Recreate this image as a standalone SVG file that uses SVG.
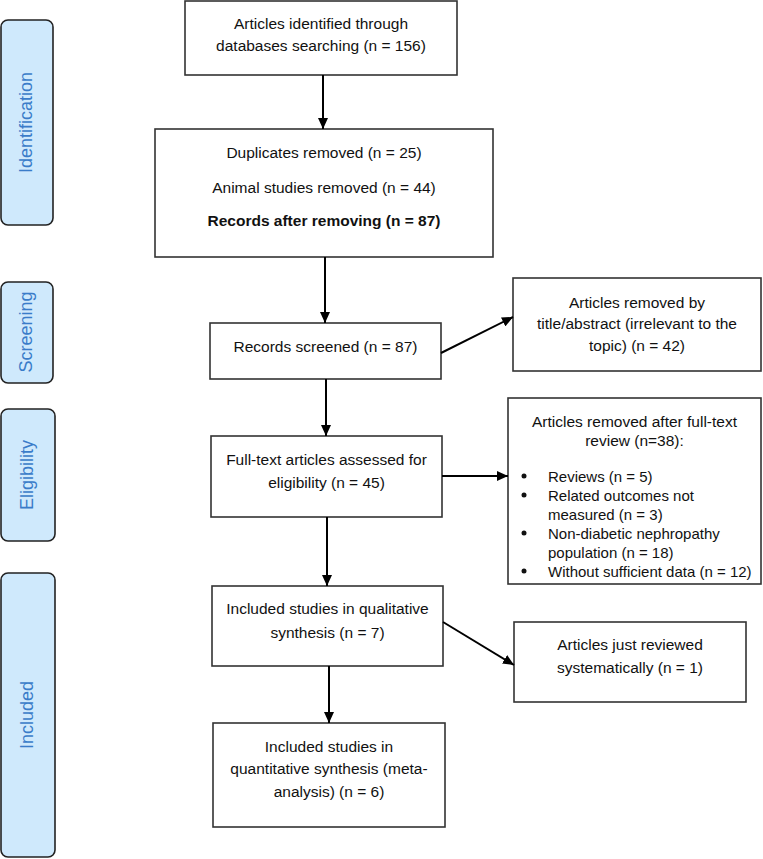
<svg xmlns="http://www.w3.org/2000/svg" width="763" height="859" viewBox="0 0 763 859">
<style>
.box{fill:#fff;stroke:#333;stroke-width:1.6}
.side{fill:#cfe9fc;stroke:#222;stroke-width:1.6}
.t{font-family:"Liberation Sans",Arial,sans-serif;font-size:15.5px;fill:#111;text-anchor:middle;dominant-baseline:central}
.tl{font-family:"Liberation Sans",Arial,sans-serif;font-size:15px;fill:#111;dominant-baseline:central}
.b{font-weight:bold}
.s{font-family:"Liberation Sans",Arial,sans-serif;font-size:18px;fill:#3a7cc9;text-anchor:middle;dominant-baseline:central}
.c{stroke:#000;stroke-width:2;fill:none}
</style>
<defs>
<marker id="ah" markerUnits="userSpaceOnUse" markerWidth="12" markerHeight="10" refX="11" refY="5" orient="auto">
<path d="M0,0 L11,5 L0,10 z" fill="#000"/>
</marker>
</defs>
<g id="side-identification"><rect class="side" x="1" y="20" width="52" height="205" rx="7"/><text class="s" transform="translate(26,122.5) rotate(-90)">Identification</text></g>
<g id="side-screening"><rect class="side" x="1" y="282" width="52" height="101" rx="7"/><text class="s" transform="translate(26,332) rotate(-90)">Screening</text></g>
<g id="side-eligibility"><rect class="side" x="1" y="409" width="54" height="132" rx="7"/><text class="s" transform="translate(27,475) rotate(-90)">Eligibility</text></g>
<g id="side-included"><rect class="side" x="1" y="573" width="54" height="284" rx="7"/><text class="s" transform="translate(27,715) rotate(-90)">Included</text></g>

<g id="n1"><rect class="box" x="185" y="1" width="272" height="74"/><text class="t" x="321" y="23">Articles identified through</text><text class="t" x="321" y="45">databases searching (n = 156)</text></g>
<g id="n2"><rect class="box" x="155" y="129" width="338" height="128"/><text class="t" x="324" y="152">Duplicates removed (n = 25)</text><text class="t" x="324" y="187">Animal studies removed (n = 44)</text><text class="t b" x="324" y="220">Records after removing (n = 87)</text></g>
<g id="n3"><rect class="box" x="210" y="323" width="231" height="56"/><text class="t" x="325.5" y="346">Records screened (n = 87)</text></g>
<g id="n4"><rect class="box" x="513" y="278" width="248" height="93"/><text class="t" x="637" y="302">Articles removed by</text><text class="t" x="637" y="323">title/abstract (irrelevant to the</text><text class="t" x="637" y="345">topic) (n = 42)</text></g>
<g id="n5"><rect class="box" x="508" y="398" width="253" height="186"/><text class="t" x="634.5" y="421">Articles removed after full-text</text><text class="t" x="634.5" y="440">review (n=38):</text>
<circle cx="524" cy="476" r="2.5" fill="#111"/><text class="tl" x="548" y="476">Reviews (n = 5)</text>
<circle cx="524" cy="495" r="2.5" fill="#111"/><text class="tl" x="548" y="495">Related outcomes not</text><text class="tl" x="548" y="514">measured (n = 3)</text>
<circle cx="524" cy="533" r="2.5" fill="#111"/><text class="tl" x="548" y="533">Non-diabetic nephropathy</text><text class="tl" x="548" y="552">population (n = 18)</text>
<circle cx="524" cy="571" r="2.5" fill="#111"/><text class="tl" x="548" y="571">Without sufficient data (n = 12)</text></g>
<g id="n6"><rect class="box" x="211" y="436" width="231" height="81"/><text class="t" x="326.5" y="459">Full-text articles assessed for</text><text class="t" x="326.5" y="482">eligibility (n = 45)</text></g>
<g id="n7"><rect class="box" x="212" y="586" width="231" height="80"/><text class="t" x="327.5" y="608">Included studies in qualitative</text><text class="t" x="327.5" y="632">synthesis (n = 7)</text></g>
<g id="n8"><rect class="box" x="514" y="622" width="232" height="80"/><text class="t" x="630" y="644">Articles just reviewed</text><text class="t" x="630" y="667">systematically (n = 1)</text></g>
<g id="n9"><rect class="box" x="213" y="723" width="232" height="104"/><text class="t" x="329" y="746">Included studies in</text><text class="t" x="329" y="768">quantitative synthesis (meta-</text><text class="t" x="329" y="791">analysis) (n = 6)</text></g>

<g id="connectors">
<line class="c" x1="323" y1="75" x2="323" y2="129" marker-end="url(#ah)"/>
<line class="c" x1="325" y1="257" x2="325" y2="323" marker-end="url(#ah)"/>
<line class="c" x1="441" y1="353" x2="513" y2="317" marker-end="url(#ah)"/>
<line class="c" x1="326" y1="379" x2="326" y2="436" marker-end="url(#ah)"/>
<line class="c" x1="442" y1="476" x2="508" y2="476" marker-end="url(#ah)"/>
<line class="c" x1="327" y1="517" x2="327" y2="586" marker-end="url(#ah)"/>
<line class="c" x1="443" y1="622" x2="514" y2="665" marker-end="url(#ah)"/>
<line class="c" x1="329" y1="666" x2="329" y2="723" marker-end="url(#ah)"/>
</g>
</svg>
